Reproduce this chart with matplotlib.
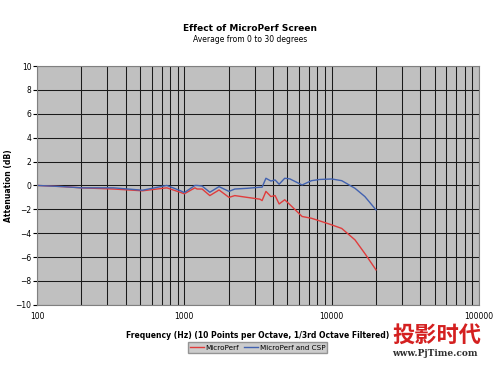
import numpy as np
import matplotlib
matplotlib.use("Agg")
import matplotlib.pyplot as plt
from matplotlib.ticker import FixedLocator, NullFormatter

# ----------- DATA -----------
freq_red = [100, 150, 200, 330, 520, 760, 935, 1000, 1180, 1220, 1320, 1490,
            1720, 2010, 2200, 2670, 3260, 3370, 3580, 3870, 4130, 4400, 4800,
            5200, 6300, 7300, 8300, 10000, 11700, 14400, 16800, 20000]
micro = [0.0, -0.1, -0.2, -0.3, -0.45, -0.2, -0.57, -0.7, -0.2, -0.3, -0.3,
         -0.85, -0.38, -1.0, -0.85, -1.0, -1.15, -1.27, -0.5, -0.93, -0.85,
         -1.55, -1.2, -1.6, -2.6, -2.75, -2.97, -3.3, -3.6, -4.56, -5.7, -7.07]

freq_blue = [100, 150, 200, 330, 520, 760, 935, 1000, 1180, 1220, 1320, 1490,
             1720, 2010, 2200, 2670, 3260, 3370, 3580, 3870, 4130, 4400, 4800,
             5200, 6300, 7300, 8300, 10000, 11700, 14400, 16800, 20000]
micro_csp = [0.0, -0.1, -0.2, -0.2, -0.4, 0.0, -0.43, -0.6, 0.0, 0.0, -0.05,
             -0.57, -0.1, -0.5, -0.3, -0.24, -0.15, -0.15, 0.6, 0.37, 0.46,
             0.1, 0.6, 0.55, 0.04, 0.4, 0.5, 0.54, 0.4, -0.24, -0.93, -2.05]

yticks = list(range(-10, 11, 2))
xticks = [100, 1000, 10000, 100000]

# ----------- PLOT -----------
fig = plt.figure(figsize=(5, 3.75), dpi=100)
ax = fig.add_axes([0.074, 0.187, 0.884, 0.637])
ax.set_facecolor("#c0c0c0")

ax.plot(freq_red, micro, color="#e03c3c", lw=1.0, label="MicroPerf")
ax.plot(freq_blue, micro_csp, color="#4262b0", lw=1.0, label="MicroPerf and CSP")

ax.set_xscale("log")
ax.set_xlim(100, 100000)
ax.set_ylim(-10, 10)
ax.xaxis.set_major_locator(FixedLocator(xticks))
ax.set_xticklabels([str(t) for t in xticks])
ax.xaxis.set_minor_locator(FixedLocator(
    [m * d for d in (100, 1000, 10000) for m in range(2, 10)]))
ax.xaxis.set_minor_formatter(NullFormatter())
ax.set_yticks(yticks)

ax.grid(True, which="both", axis="x", color="#1a1a1a", lw=0.75)
ax.grid(True, which="major", axis="y", color="#1a1a1a", lw=0.75)
ax.set_axisbelow(True)
ax.tick_params(axis="x", which="both", length=0, labelsize=5.5, pad=5)
ax.tick_params(axis="y", length=3, labelsize=5.5, pad=1)
for s in ax.spines.values():
    s.set_color("#808080")
    s.set_linewidth(0.8)

fig.text(0.5, 0.918, "Effect of MicroPerf Screen", ha="center",
         fontsize=6.5, fontweight="bold")
fig.text(0.5, 0.888, "Average from 0 to 30 degrees", ha="center", fontsize=5.5)
ax.set_ylabel("Attenuation (dB)", fontsize=5.5, fontweight="bold", labelpad=2)
ax.set_xlabel("Frequency (Hz) (10 Points per Octave, 1/3rd Octave Filtered)",
              fontsize=5.5, fontweight="bold", labelpad=7)

leg = fig.legend(loc="center", bbox_to_anchor=(0.515, 0.073), ncol=2,
                 fontsize=5.2, frameon=True, fancybox=False,
                 handlelength=2.0, handletextpad=0.2, columnspacing=0.6,
                 borderpad=0.3)
leg.get_frame().set_facecolor("#c0c0c0")
leg.get_frame().set_edgecolor("#808080")

# watermark
fig.text(0.784, 0.088, "投影时代", fontsize=16, fontweight="bold",
         color="#d42020", family=["Noto Sans CJK SC", "DejaVu Sans"])
fig.text(0.784, 0.052, "www.PjTime.com", fontsize=6.5, fontweight="bold",
         color="#303030", family="DejaVu Serif")

fig.savefig("out.png", dpi=100)
